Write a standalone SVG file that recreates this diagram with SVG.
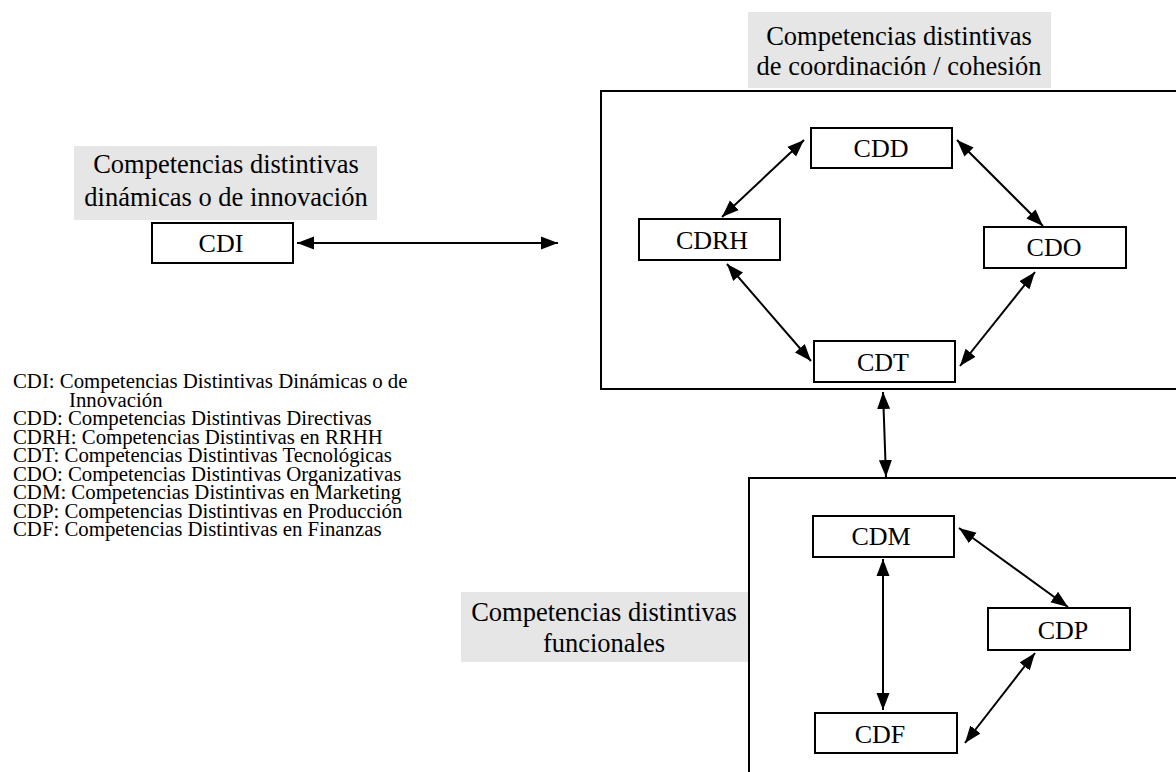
<svg xmlns="http://www.w3.org/2000/svg" width="1176" height="772" viewBox="0 0 1176 772">
<style>
.box{fill:#fff;stroke:#000;stroke-width:2}
.frame{fill:none;stroke:#000;stroke-width:2}
.lbl{fill:#e6e6e6;stroke:none}
.t{font-family:"Liberation Serif","Times New Roman",serif;fill:#000}
.node{font-size:26px;text-anchor:middle}
.head{font-size:26.5px;text-anchor:middle}
.leg{font-size:20.8px}
.conn{stroke:#000;stroke-width:2;fill:none;marker-start:url(#ah);marker-end:url(#ah)}
</style>
<defs>
<marker id="ah" markerUnits="userSpaceOnUse" markerWidth="18" markerHeight="16" viewBox="0 0 18 16" refX="17" refY="8" orient="auto-start-reverse">
<path d="M0,1.5 L17,8 L0,14.5 z" fill="#000"/>
</marker>
</defs>

<g id="frame-coordinacion">
<rect class="frame" x="601" y="91" width="600" height="298"/>
</g>
<g id="frame-funcionales">
<rect class="frame" x="749" y="478" width="500" height="320"/>
</g>

<g id="label-coordinacion">
<rect class="lbl" x="748" y="12" width="303" height="76"/>
<text class="t head" x="899" y="45">Competencias distintivas</text>
<text class="t head" x="899" y="75">de coordinación / cohesión</text>
</g>
<g id="label-innovacion">
<rect class="lbl" x="74" y="146" width="303" height="74"/>
<text class="t head" x="226" y="173">Competencias distintivas</text>
<text class="t head" x="226" y="206">dinámicas o de innovación</text>
</g>
<g id="label-funcionales">
<rect class="lbl" x="461" y="592" width="287" height="70"/>
<text class="t head" x="604" y="621">Competencias distintivas</text>
<text class="t head" x="604" y="652">funcionales</text>
</g>

<g id="CDI">
<rect class="box" x="152" y="223" width="141" height="40"/>
<text class="t node" x="221" y="252">CDI</text>
</g>
<g id="CDD">
<rect class="box" x="811" y="128" width="141" height="40"/>
<text class="t node" x="881" y="157">CDD</text>
</g>
<g id="CDRH">
<rect class="box" x="639" y="219" width="141" height="41"/>
<text class="t node" x="712" y="249">CDRH</text>
</g>
<g id="CDO">
<rect class="box" x="984" y="227" width="142" height="41"/>
<text class="t node" x="1054" y="256">CDO</text>
</g>
<g id="CDT">
<rect class="box" x="814" y="341" width="141" height="41"/>
<text class="t node" x="883" y="371">CDT</text>
</g>
<g id="CDM">
<rect class="box" x="813" y="516" width="141" height="41"/>
<text class="t node" x="881" y="545">CDM</text>
</g>
<g id="CDP">
<rect class="box" x="988" y="608" width="142" height="42"/>
<text class="t node" x="1063" y="639">CDP</text>
</g>
<g id="CDF">
<rect class="box" x="815" y="713" width="142" height="40"/>
<text class="t node" x="880" y="743">CDF</text>
</g>

<g id="connectors">
<line class="conn" x1="297" y1="243" x2="558" y2="243"/>
<line class="conn" x1="804" y1="140" x2="722" y2="217"/>
<line class="conn" x1="957" y1="140" x2="1043" y2="226"/>
<line class="conn" x1="727" y1="264" x2="811" y2="361"/>
<line class="conn" x1="960" y1="366" x2="1035" y2="272"/>
<line class="conn" x1="883" y1="392" x2="886" y2="477"/>
<line class="conn" x1="959" y1="528" x2="1068" y2="607"/>
<line class="conn" x1="883" y1="559" x2="883" y2="710"/>
<line class="conn" x1="1035" y1="653" x2="965" y2="743"/>
</g>

<g id="legend">
<text class="t leg" x="13" y="388">CDI: Competencias Distintivas Dinámicas o de</text>
<text class="t leg" x="69" y="406.5">Innovación</text>
<text class="t leg" x="13" y="425">CDD: Competencias Distintivas Directivas</text>
<text class="t leg" x="13" y="443.5">CDRH: Competencias Distintivas en RRHH</text>
<text class="t leg" x="13" y="462">CDT: Competencias Distintivas Tecnológicas</text>
<text class="t leg" x="13" y="480.5">CDO: Competencias Distintivas Organizativas</text>
<text class="t leg" x="13" y="499">CDM: Competencias Distintivas en Marketing</text>
<text class="t leg" x="13" y="517.5">CDP: Competencias Distintivas en Producción</text>
<text class="t leg" x="13" y="536">CDF: Competencias Distintivas en Finanzas</text>
</g>
</svg>
